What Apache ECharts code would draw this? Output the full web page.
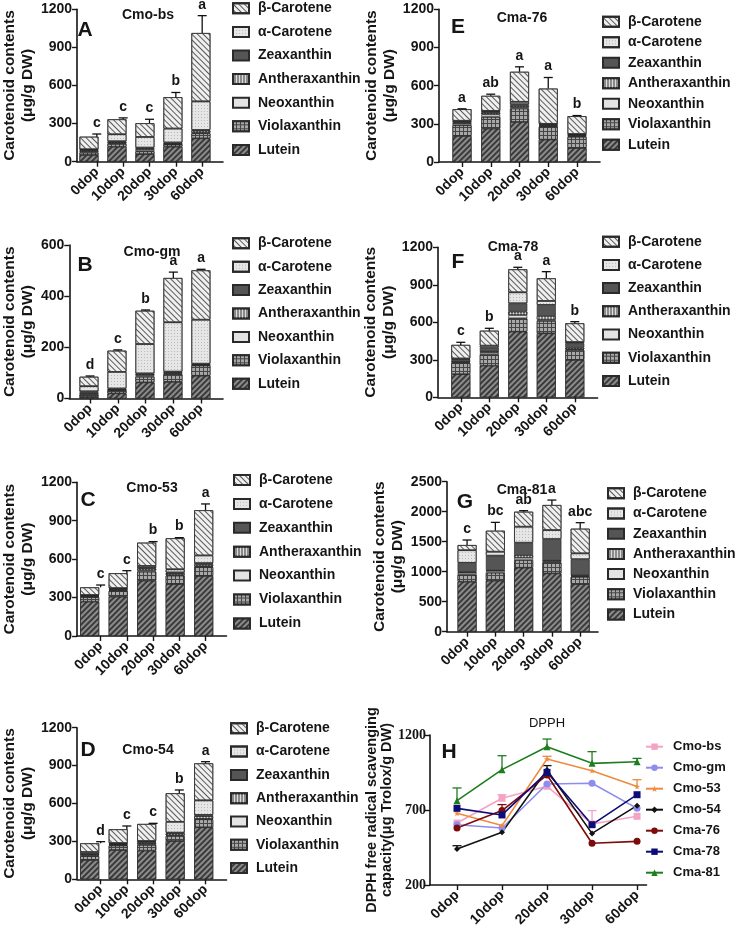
<!DOCTYPE html>
<html><head><meta charset="utf-8">
<script src="https://cdn.jsdelivr.net/npm/echarts@6/dist/echarts.min.js"></script>
<style>html,body{margin:0;padding:0;background:#fff}#c{width:738px;height:936px}</style>
</head><body><div id="c"></div>
<script>
// ---------- DATA ----------
const categories = ['0dop', '10dop', '20dop', '30dop', '60dop'];
const pigments = ['Lutein', 'Violaxanthin', 'Neoxanthin', 'Antheraxanthin', 'Zeaxanthin', 'α-Carotene', 'β-Carotene'];

// A  Cmo-bs
const A_Lutein = [53, 118, 60, 118, 184];
const A_Violaxanthin = [18, 22, 22, 17, 40];
const A_Neoxanthin = [8, 5, 13, 2, 5];
const A_Antheraxanthin = [8, 10, 10, 8, 16];
const A_Zeaxanthin = [6, 6, 6, 6, 5];
const A_aCarotene = [5, 55, 84, 110, 225];
const A_bCarotene = [99, 118, 108, 247, 538];
const A_errTop = [218, 345, 334, 545, 1150];
const A_letters = ['c', 'c', 'c', 'b', 'a'];

// B  Cmo-gm
const B_Lutein = [6, 20, 63, 65, 89];
const B_Violaxanthin = [10, 12, 22, 30, 40];
const B_Neoxanthin = [3, 2, 5, 3, 2];
const B_Antheraxanthin = [4, 2, 5, 4, 2];
const B_Zeaxanthin = [5, 3, 3, 3, 3];
const B_aCarotene = [20, 65, 115, 193, 172];
const B_bCarotene = [37, 83, 130, 173, 193];
const B_errTop = [88, 190, 346, 494, 505];
const B_letters = ['d', 'c', 'b', 'a', 'a'];

// C  Cmo-53
const C_Lutein = [268, 307, 432, 406, 469];
const C_Violaxanthin = [35, 45, 70, 65, 70];
const C_Neoxanthin = [5, 5, 10, 5, 5];
const C_Antheraxanthin = [5, 7, 15, 15, 15];
const C_Zeaxanthin = [4, 5, 5, 5, 10];
const C_aCarotene = [3, 5, 15, 25, 60];
const C_bCarotene = [60, 116, 182, 242, 353];
const C_errTop = [398, 510, 737, 768, 1031];
const C_letters = ['c', 'c', 'b', 'b', 'a'];

// D  Cmo-54
const D_Lutein = [153, 232, 227, 303, 412];
const D_Violaxanthin = [30, 35, 45, 40, 63];
const D_Neoxanthin = [5, 5, 8, 5, 4];
const D_Antheraxanthin = [10, 5, 10, 16, 21];
const D_Zeaxanthin = [3, 5, 8, 5, 10];
const D_aCarotene = [15, 5, 5, 86, 115];
const D_bCarotene = [69, 109, 135, 226, 293];
const D_errTop = [298, 422, 443, 707, 931];
const D_letters = ['d', 'c', 'c', 'b', 'a'];

// E  Cma-76
const E_Lutein = [205, 262, 315, 176, 110];
const E_Violaxanthin = [84, 92, 105, 100, 88];
const E_Neoxanthin = [13, 20, 10, 6, 6];
const E_Antheraxanthin = [8, 12, 12, 5, 6];
const E_Zeaxanthin = [6, 8, 12, 8, 5];
const E_aCarotene = [8, 8, 19, 5, 5];
const E_bCarotene = [91, 118, 236, 277, 140];
const E_errTop = [418, 533, 748, 664, 365];
const E_letters = ['a', 'ab', 'a', 'a', 'b'];

// F  Cma-78
const F_Lutein = [185, 253, 525, 512, 299];
const F_Violaxanthin = [90, 90, 107, 99, 80];
const F_Neoxanthin = [5, 15, 26, 10, 5];
const F_Antheraxanthin = [10, 10, 27, 30, 13];
const F_Zeaxanthin = [15, 30, 67, 88, 35];
const F_aCarotene = [5, 15, 88, 32, 10];
const F_bCarotene = [109, 120, 184, 181, 150];
const F_errTop = [440, 552, 1040, 1005, 605];
const F_letters = ['c', 'b', 'a', 'a', 'b'];

// G  Cma-81
const G_Lutein = [833, 850, 1067, 972, 794];
const G_Violaxanthin = [120, 133, 127, 184, 120];
const G_Neoxanthin = [30, 30, 39, 18, 10];
const G_Antheraxanthin = [15, 15, 45, 20, 14];
const G_Zeaxanthin = [150, 239, 205, 350, 270];
const G_aCarotene = [210, 66, 267, 150, 98];
const G_bCarotene = [86, 350, 250, 417, 411];
const G_errTop = [1528, 1822, 2017, 2194, 1817];
const G_letters = ['c', 'bc', 'ab', 'a', 'abc'];

// H  DPPH
const dpphNames = ['Cmo-bs', 'Cmo-gm', 'Cmo-53', 'Cmo-54', 'Cma-76', 'Cma-78', 'Cma-81'];
const H_CmoBs = [613, 778, 858, 607, 658];
const H_CmoGm = [602, 580, 873, 878, 711];
const H_Cmo53 = [678, 596, 1040, 962, 856];
const H_Cmo54 = [440, 551, 967, 544, 729];
const H_Cma76 = [580, 696, 933, 478, 491];
const H_Cma78 = [711, 667, 951, 602, 802];
const H_Cma81 = [762, 969, 1122, 1011, 1022];
const H_CmoBs_err = [null, 802, null, 696, null];
const H_CmoGm_err = [null, null, null, null, null];
const H_Cmo53_err = [null, null, 1058, null, 902];
const H_Cmo54_err = [462, null, 996, null, null];
const H_Cma76_err = [null, 736, null, null, null];
const H_Cma78_err = [null, null, null, null, null];
const H_Cma81_err = [847, 1062, 1173, 1089, 1044];

// ---------- STYLE / LAYOUT ----------
const FONT = "'Liberation Sans', Arial, sans-serif";
const SERIF = "'Liberation Serif', 'Times New Roman', serif";
const INK = '#151515';

const pigmentStyle = {
  'Lutein': { color: '#3a3a3a', decal: { symbol: 'rect', dashArrayX: [1, 0], dashArrayY: [2, 2], rotation: -Math.PI / 4, color: '#8c8c8c' } },
  'Violaxanthin': { color: '#454545', decal: { symbol: 'rect', dashArrayX: [3, 1], dashArrayY: [3, 1], color: '#a8a8a8' } },
  'Neoxanthin': { color: '#e3e3e3' },
  'Antheraxanthin': { color: '#8a8a8a', decal: { symbol: 'rect', dashArrayX: [1, 2], dashArrayY: [1, 0], color: '#dcdcdc' } },
  'Zeaxanthin': { color: '#555555' },
  'α-Carotene': { color: '#e6e6e6', decal: { symbol: 'circle', symbolSize: 0.9, dashArrayX: [1, 2], dashArrayY: [1, 2], color: '#8a8a8a' } },
  'β-Carotene': { color: '#f0f0f0', decal: { symbol: 'rect', dashArrayX: [1, 0], dashArrayY: [1, 3], rotation: Math.PI / 4, color: '#5a5a5a' } }
};

const panels = [
  { key: 'A', title: 'Cmo-bs', arrs: [A_Lutein, A_Violaxanthin, A_Neoxanthin, A_Antheraxanthin, A_Zeaxanthin, A_aCarotene, A_bCarotene], err: A_errTop, letters: A_letters,
    yMax: 1200, yInt: 300, grid: { left: 68, top: 9.3, width: 155, height: 152.4 }, xMin: -0.75, xMax: 4.79,
    leg: { left: 232, top: 1.3, gap: 9.6 }, letterPos: [85, 30], titlePos: [148, 15] },
  { key: 'B', title: 'Cmo-gm', arrs: [B_Lutein, B_Violaxanthin, B_Neoxanthin, B_Antheraxanthin, B_Zeaxanthin, B_aCarotene, B_bCarotene], err: B_errTop, letters: B_letters,
    yMax: 600, yInt: 200, grid: { left: 68, top: 245, width: 155, height: 153.5 }, xMin: -0.75, xMax: 4.79,
    leg: { left: 232, top: 236.3, gap: 9.4 }, letterPos: [85, 265], titlePos: [152, 252] },
  { key: 'C', title: 'Cmo-53', arrs: [C_Lutein, C_Violaxanthin, C_Neoxanthin, C_Antheraxanthin, C_Zeaxanthin, C_aCarotene, C_bCarotene], err: C_errTop, letters: C_letters,
    yMax: 1200, yInt: 300, grid: { left: 64, top: 482.3, width: 162.5, height: 153.7 }, xMin: -0.9, xMax: 4.8,
    leg: { left: 233, top: 473, gap: 9.9 }, letterPos: [88, 500], titlePos: [152, 488] },
  { key: 'D', title: 'Cmo-54', arrs: [D_Lutein, D_Violaxanthin, D_Neoxanthin, D_Antheraxanthin, D_Zeaxanthin, D_aCarotene, D_bCarotene], err: D_errTop, letters: D_letters,
    yMax: 1200, yInt: 300, grid: { left: 64, top: 727.7, width: 162.5, height: 151.6 }, xMin: -0.9, xMax: 4.8,
    leg: { left: 230, top: 721.3, gap: 9.3 }, letterPos: [88, 750], titlePos: [148, 750] },
  { key: 'E', title: 'Cma-76', arrs: [E_Lutein, E_Violaxanthin, E_Neoxanthin, E_Antheraxanthin, E_Zeaxanthin, E_aCarotene, E_bCarotene], err: E_errTop, letters: E_letters,
    yMax: 1200, yInt: 300, grid: { left: 439, top: 9.3, width: 161, height: 152.7 }, xMin: -0.8, xMax: 4.8,
    leg: { left: 602, top: 14.7, gap: 6.5 }, letterPos: [458, 27], titlePos: [522, 18] },
  { key: 'F', title: 'Cma-78', arrs: [F_Lutein, F_Violaxanthin, F_Neoxanthin, F_Antheraxanthin, F_Zeaxanthin, F_aCarotene, F_bCarotene], err: F_errTop, letters: F_letters,
    yMax: 1200, yInt: 300, grid: { left: 438, top: 247.3, width: 159.6, height: 150 }, xMin: -0.8, xMax: 4.8,
    leg: { left: 602, top: 234.7, gap: 9.2 }, letterPos: [458, 262], titlePos: [513, 247] },
  { key: 'G', title: 'Cma-81', arrs: [G_Lutein, G_Violaxanthin, G_Neoxanthin, G_Antheraxanthin, G_Zeaxanthin, G_aCarotene, G_bCarotene], err: G_errTop, letters: G_letters,
    yMax: 2500, yInt: 500, grid: { left: 447, top: 481.7, width: 151, height: 150 }, xMin: -0.71, xMax: 4.63,
    leg: { left: 607, top: 486.3, gap: 6.2 }, letterPos: [465, 502], titlePos: [522, 490] }
];

const hSeries = [
  { name: 'Cmo-bs', vals: H_CmoBs, err: H_CmoBs_err, color: '#f4a3c4', symbol: 'rect', size: 7 },
  { name: 'Cmo-gm', vals: H_CmoGm, err: H_CmoGm_err, color: '#8d8df0', symbol: 'circle', size: 7 },
  { name: 'Cmo-53', vals: H_Cmo53, err: H_Cmo53_err, color: '#ef8a3e', symbol: 'path://M0,-10 L2.4,-3.2 9.5,-3.1 3.8,1.2 5.9,8.1 0,4 -5.9,8.1 -3.8,1.2 -9.5,-3.1 -2.4,-3.2Z', size: 6 },
  { name: 'Cmo-54', vals: H_Cmo54, err: H_Cmo54_err, color: '#111111', symbol: 'diamond', size: 6 },
  { name: 'Cma-76', vals: H_Cma76, err: H_Cma76_err, color: '#7c0c0c', symbol: 'circle', size: 7 },
  { name: 'Cma-78', vals: H_Cma78, err: H_Cma78_err, color: '#0c0c78', symbol: 'rect', size: 7 },
  { name: 'Cma-81', vals: H_Cma81, err: H_Cma81_err, color: '#1e7d1e', symbol: 'triangle', size: 7 }
];

// ---------- BUILD ----------
const grids = [], xAxes = [], yAxes = [], series = [], legends = [], graphics = [];
const tickVals = [0, 1, 2, 3, 4];
const LEG_PAD = 5;

function xAxisCfg(idx, min, max) {
  return {
    type: 'value', gridIndex: idx, min, max,
    axisLine: { show: true, onZero: false, lineStyle: { color: INK, width: 1.6 } },
    axisTick: { show: true, customValues: tickVals, length: 5, lineStyle: { color: INK, width: 1.4 } },
    axisLabel: { customValues: tickVals, formatter: v => categories[Math.round(v)], rotate: 45, margin: 8,
      fontFamily: FONT, fontWeight: 'bold', fontSize: 14, color: INK },
    splitLine: { show: false }
  };
}

function errRenderer(letters, color) {
  return function (params, api) {
    const x = api.value(0), lo = api.value(1), hi = api.value(2);
    const p0 = api.coord([x, lo]), p1 = api.coord([x, hi]);
    const ch = [
      { type: 'line', shape: { x1: p0[0], y1: p0[1], x2: p1[0], y2: p1[1] }, style: { stroke: color, lineWidth: 1.3 } },
      { type: 'line', shape: { x1: p1[0] - 4.5, y1: p1[1], x2: p1[0] + 4.5, y2: p1[1] }, style: { stroke: color, lineWidth: 1.3 } }
    ];
    if (letters) {
      ch.push({ type: 'text', x: p1[0], y: p1[1] - 4,
        style: { text: letters[params.dataIndex], textAlign: 'center', textVerticalAlign: 'bottom',
          font: 'bold 14px ' + FONT, fill: INK } });
    }
    return { type: 'group', children: ch };
  };
}

panels.forEach((p) => {
  const gv = grids.length;       // visible axes grid
  const gb = gv + 1;             // bar grid (hidden category axis)
  const step = p.grid.width / (p.xMax - p.xMin);
  grids.push(Object.assign({}, p.grid));
  grids.push({ left: p.grid.left + (0 - p.xMin) * step - step / 2, top: p.grid.top, width: 5 * step, height: p.grid.height });

  xAxes.push(xAxisCfg(gv, p.xMin, p.xMax));
  xAxes.push({ type: 'category', gridIndex: gb, data: categories, show: false });
  yAxes.push({
    type: 'value', gridIndex: gv, min: 0, max: p.yMax, interval: p.yInt,
    name: 'Carotenoid contents\n(μg/g DW)', nameLocation: 'middle', nameGap: 31,
    nameTextStyle: { fontFamily: FONT, fontSize: 15.5, fontWeight: 'bold', color: INK, lineHeight: 18 },
    axisLine: { show: true, onZero: false, lineStyle: { color: INK, width: 1.6 } },
    axisTick: { show: true, length: 5, lineStyle: { color: INK, width: 1.4 } },
    axisLabel: { fontFamily: FONT, fontWeight: 'bold', fontSize: 14, color: INK, margin: 5, formatter: v => String(v) },
    splitLine: { show: false }
  });
  yAxes.push({ type: 'value', gridIndex: gb, min: 0, max: p.yMax, interval: p.yInt, show: false, splitLine: { show: false } });

  const bx = xAxes.length - 1, by = yAxes.length - 1;
  pigments.forEach((name, j) => {
    series.push({
      type: 'bar', name, xAxisIndex: bx, yAxisIndex: by, stack: 'st' + p.key, barWidth: 19,
      data: p.arrs[j],
      itemStyle: Object.assign({ borderColor: '#2a2a2a', borderWidth: 0.7 }, pigmentStyle[name]),
      emphasis: { disabled: true }, z: 2
    });
  });
  const totals = categories.map((c, i) => p.arrs.reduce((s, a) => s + a[i], 0));
  series.push({
    type: 'custom', name: 'err' + p.key, xAxisIndex: bx - 1, yAxisIndex: by - 1, z: 5,
    renderItem: errRenderer(p.letters, '#111'),
    encode: { x: 0, y: [1, 2] },
    data: totals.map((t, i) => [i, t, p.err[i]])
  });
  legends.push({
    orient: 'vertical', left: p.leg.left - LEG_PAD, top: p.leg.top - LEG_PAD, itemGap: p.leg.gap,
    itemWidth: 16, itemHeight: 10, icon: 'rect', selectedMode: false,
    data: pigments.slice().reverse(),
    textStyle: { fontFamily: FONT, fontWeight: 'bold', fontSize: 14, color: INK, padding: [0, 0, 0, 4] }
  });
  graphics.push({ type: 'text', x: p.letterPos[0], y: p.letterPos[1],
    style: { text: p.key, font: 'bold 21px ' + FONT, fill: INK, textAlign: 'center', textVerticalAlign: 'middle' } });
  graphics.push({ type: 'text', x: p.titlePos[0], y: p.titlePos[1],
    style: { text: p.title, font: 'bold 14px ' + FONT, fill: INK, textAlign: 'center', textVerticalAlign: 'middle' } });
});

// Panel H
const hg = grids.length;
grids.push({ left: 430, top: 735, width: 216.5, height: 150 });
xAxes.push(xAxisCfg(hg, -0.6, 4.21));
yAxes.push({
  type: 'value', gridIndex: hg, min: 200, max: 1200, interval: 500,
  name: 'DPPH free radical scavenging\ncapacity(μg Trolox/g DW)', nameLocation: 'middle', nameGap: 25,
  nameTextStyle: { fontFamily: FONT, fontSize: 14.5, fontWeight: 'bold', color: INK, lineHeight: 15 },
  axisLine: { show: true, onZero: false, lineStyle: { color: INK, width: 1.6 } },
  axisTick: { show: true, length: 5, lineStyle: { color: INK, width: 1.4 } },
  axisLabel: { fontFamily: SERIF, fontWeight: 'bold', fontSize: 14, color: INK, margin: 4, formatter: v => String(v) },
  splitLine: { show: false }
});
const hx = xAxes.length - 1, hy = yAxes.length - 1;
hSeries.forEach(s => {
  series.push({
    type: 'line', name: s.name, xAxisIndex: hx, yAxisIndex: hy,
    data: s.vals.map((v, i) => [i, v]),
    symbol: s.symbol, symbolSize: s.size, showAllSymbol: true,
    lineStyle: { color: s.color, width: 1.6 }, itemStyle: { color: s.color },
    emphasis: { disabled: true }, z: 3
  });
  const ed = [];
  s.err.forEach((e, i) => { if (e !== null) ed.push([i, s.vals[i], e]); });
  if (ed.length) {
    series.push({
      type: 'custom', name: 'err_' + s.name, xAxisIndex: hx, yAxisIndex: hy, z: 2,
      renderItem: errRenderer(null, s.color),
      encode: { x: 0, y: [1, 2] }, data: ed
    });
  }
});
legends.push({
  orient: 'vertical', left: 645 - LEG_PAD, top: 740.2 - LEG_PAD, itemGap: 8, itemWidth: 17, itemHeight: 8,
  selectedMode: false, data: dpphNames,
  textStyle: { fontFamily: FONT, fontWeight: 'bold', fontSize: 13, color: INK, padding: [0, 0, 0, 5] }
});
graphics.push({ type: 'text', x: 449, y: 752,
  style: { text: 'H', font: 'bold 21px ' + FONT, fill: INK, textAlign: 'center', textVerticalAlign: 'middle' } });
graphics.push({ type: 'text', x: 547, y: 723,
  style: { text: 'DPPH', font: '13px ' + FONT, fill: INK, textAlign: 'center', textVerticalAlign: 'middle' } });

const chart = echarts.init(document.getElementById('c'), null, { renderer: 'canvas' });
chart.setOption({
  animation: false,
  backgroundColor: '#ffffff',
  grid: grids, xAxis: xAxes, yAxis: yAxes, series, legend: legends, graphic: graphics
});
</script></body></html>
